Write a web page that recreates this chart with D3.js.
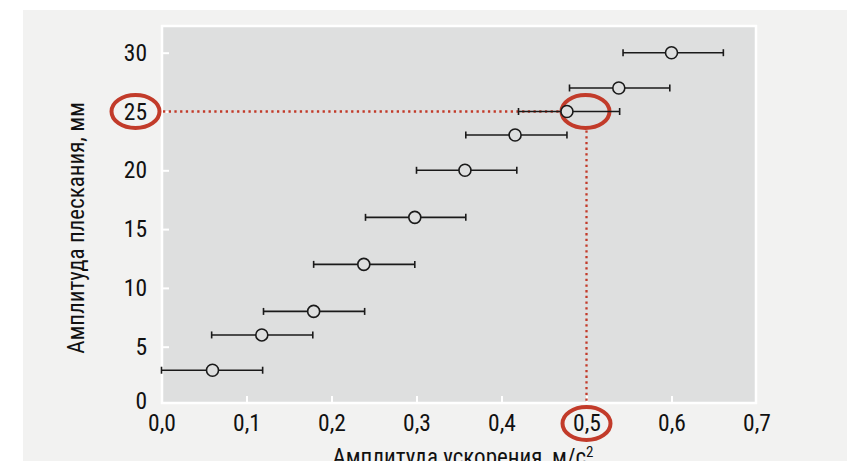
<!DOCTYPE html>
<html><head><meta charset="utf-8">
<script src="https://cdn.jsdelivr.net/npm/d3@7/dist/d3.min.js"></script>
<style>
html,body{margin:0;padding:0;background:#fff;}
text{font-family:"Liberation Sans Narrow","Roboto Condensed","DejaVu Sans Condensed","Arial Narrow",sans-serif;fill:#111;}
</style></head>
<body>
<svg id="c" width="847" height="461"></svg>
<script>
// Data
const accel = [0.06, 0.118, 0.179, 0.238, 0.298, 0.357, 0.416, 0.477, 0.538, 0.60];
const slosh = [3, 6, 8, 12, 16, 20, 23, 25, 27, 30];
const errLow = [0.00, 0.059, 0.12, 0.179, 0.24, 0.30, 0.358, 0.42, 0.48, 0.543];
const errHigh = [0.119, 0.178, 0.239, 0.298, 0.358, 0.418, 0.477, 0.539, 0.598, 0.661];
const xTicks = [0, 0.1, 0.2, 0.3, 0.4, 0.5, 0.6, 0.7];
const yTicks = [0, 5, 10, 15, 20, 25, 30];
const highlightX = 0.5, highlightY = 25, highlightIdx = 7;
const xTitle = "Амплитуда ускорения, м/с";
const yTitle = "Амплитуда плескания, мм";

const svg = d3.select("#c");
const W = 847, H = 461;
const red = "#c23b2a";
const fmt = d => d3.format(".1f")(d).replace(".", ",");

const x = d3.scaleLinear().domain([0, 0.7]).range([161.5, 756.5]);
const y = d3.scaleLinear().domain([0, 30]).range([405.5, 52.7]);
const pL = 162, pR = 756, pT = 26, pB = 403;

// outer background
svg.append("rect").attr("x", 23).attr("y", 10).attr("width", W - 23).attr("height", H - 10).attr("fill", "#f2f2f1");
// panel
svg.append("rect").attr("x", pL).attr("y", pT).attr("width", pR - pL).attr("height", pB - pT)
  .attr("fill", "#dedfdf").attr("stroke", "#ffffff").attr("stroke-width", 2.5);

// axes
const xAxis = svg.append("g").attr("transform", `translate(0,${pB})`)
  .call(d3.axisBottom(x).tickValues(xTicks).tickFormat(fmt).tickSize(-7).tickPadding(11));
xAxis.select(".domain").remove();
xAxis.selectAll(".tick line").attr("stroke", "#fff").attr("stroke-width", 2);
xAxis.selectAll(".tick text").style("font-size", "23.5px").attr("fill", "#111").attr("dy", "0.71em");
xAxis.selectAll(".tick").filter(d => d === 0 || d === 0.7).select("line").remove();

const yAxis = svg.append("g").attr("transform", `translate(${pL},0)`)
  .call(d3.axisLeft(y).tickValues(yTicks).tickFormat(d3.format("d")).tickSize(-7).tickPadding(15));
yAxis.select(".domain").remove();
yAxis.selectAll(".tick line").attr("stroke", "#fff").attr("stroke-width", 2);
yAxis.selectAll(".tick text").style("font-size", "23.5px").attr("fill", "#111");
yAxis.selectAll(".tick").filter(d => d === 0).select("line").remove();
yAxis.selectAll(".tick").filter(d => d === 0).select("text").attr("y", -5);

// red dotted guide lines
svg.append("line").attr("x1", pL + 1).attr("x2", x(accel[highlightIdx]) - 6).attr("y1", y(highlightY)).attr("y2", y(highlightY))
  .attr("stroke", red).attr("stroke-width", 2.3).attr("stroke-dasharray", "2.3,3.4");
svg.append("line").attr("x1", x(highlightX)).attr("x2", x(highlightX)).attr("y1", y(highlightY) + 19).attr("y2", pB - 1)
  .attr("stroke", red).attr("stroke-width", 2.3).attr("stroke-dasharray", "2.3,3.4");

// red ellipses
const ell = [[135.5, y(highlightY)], [x(highlightX) - 1, y(highlightY)], [x(highlightX), 423.5]];
svg.selectAll("ellipse.hl").data(ell).join("ellipse").attr("class", "hl")
  .attr("cx", d => d[0]).attr("cy", d => d[1]).attr("rx", 24).attr("ry", 16.5)
  .attr("fill", "none").attr("stroke", red).attr("stroke-width", 4);

// error bars
const pts = accel.map((a, i) => ({a, s: slosh[i], lo: errLow[i], hi: errHigh[i]}));
const g = svg.append("g").attr("stroke", "#1a1a1a").attr("stroke-width", 1.6);
g.selectAll("line.eb").data(pts).join("line").attr("class", "eb")
  .attr("x1", d => x(d.lo)).attr("x2", d => x(d.hi)).attr("y1", d => y(d.s)).attr("y2", d => y(d.s));
g.selectAll("line.cl").data(pts).join("line").attr("class", "cl")
  .attr("x1", d => x(d.lo)).attr("x2", d => x(d.lo)).attr("y1", d => y(d.s) - 3.5).attr("y2", d => y(d.s) + 3.5);
g.selectAll("line.ch").data(pts).join("line").attr("class", "ch")
  .attr("x1", d => x(d.hi)).attr("x2", d => x(d.hi)).attr("y1", d => y(d.s) - 3.5).attr("y2", d => y(d.s) + 3.5);
g.selectAll("circle").data(pts).join("circle")
  .attr("cx", d => x(d.a)).attr("cy", d => y(d.s)).attr("r", 6).attr("fill", "#dedfdf");

// titles
svg.append("text").attr("transform", `translate(84,228) rotate(-90)`).attr("text-anchor", "middle")
  .style("font-size", "23px").text(yTitle);
const xt = svg.append("text").attr("x", 463).attr("y", 465).attr("text-anchor", "middle").style("font-size", "23px");
xt.append("tspan").text(xTitle);
xt.append("tspan").attr("dy", -8).style("font-size", "15px").text("2");
</script>
</body></html>
